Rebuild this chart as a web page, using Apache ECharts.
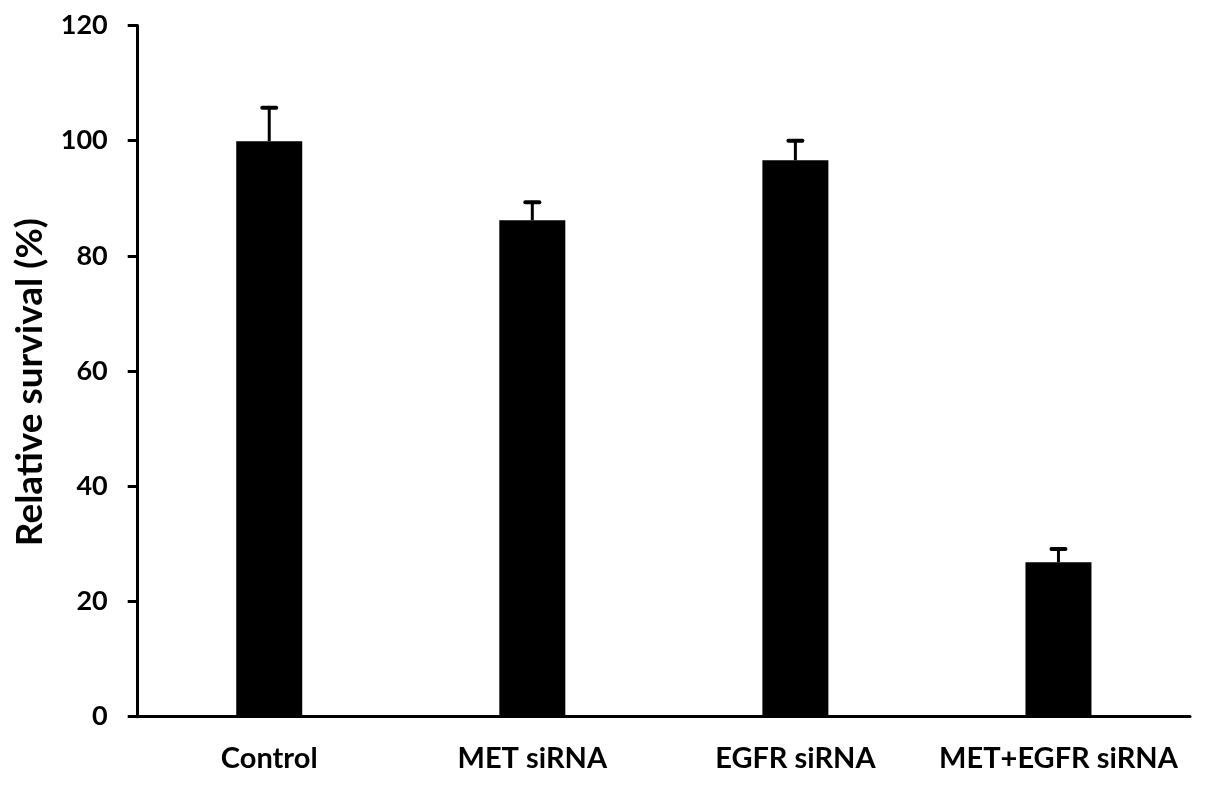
<!DOCTYPE html>
<html><head><meta charset="utf-8">
<script src="https://cdn.jsdelivr.net/npm/echarts@6/dist/echarts.min.js"></script>
<style>html,body{margin:0;padding:0;background:#fff}#c{width:1205px;height:785px}</style>
</head><body><div id="c"></div>
<script>
const categories = ['Control', 'MET siRNA', 'EGFR siRNA', 'MET+EGFR siRNA'];
const survival = [99.9, 86.2, 96.6, 26.8];
const errors = [5.8, 3.1, 3.4, 2.3];
const yTicks = [0, 20, 40, 60, 80, 100, 120];

const chart = echarts.init(document.getElementById('c'));
const font = 'Lato, "Open Sans", sans-serif';
chart.setOption({
  animation: false,
  grid: { left: 137.7, right: 15, top: 25.5, bottom: 68.3, containLabel: false },
  xAxis: {
    type: 'category', data: categories,
    axisLine: { lineStyle: { color: '#000', width: 3 } },
    axisTick: { show: false },
    axisLabel: { interval: 0, color: '#000', fontFamily: font, fontWeight: 'bold', fontSize: 29, margin: 27 }
  },
  yAxis: {
    type: 'value', min: yTicks[0], max: yTicks[yTicks.length - 1], interval: 20,
    name: 'Relative survival (%)', nameLocation: 'middle', nameRotate: 90, nameGap: 89,
    nameTextStyle: { color: '#000', fontFamily: font, fontWeight: 'bold', fontSize: 37, padding: [0, 22, 0, 0] },
    axisLine: { show: true, lineStyle: { color: '#000', width: 3 } },
    axisTick: { show: true, length: 10, lineStyle: { color: '#000', width: 3 } },
    splitLine: { show: false },
    axisLabel: { color: '#000', fontFamily: font, fontWeight: 'bold', fontSize: 27, margin: 30 }
  },
  series: [
    {
      type: 'bar', data: survival, barWidth: 66,
      itemStyle: { color: '#000' }, z: 2
    },
    {
      type: 'custom', z: 3,
      data: survival.map((v, i) => [i, v, v + errors[i]]),
      renderItem: function (params, api) {
        const x = api.value(0);
        const lo = api.coord([x, api.value(1)]);
        const hi = api.coord([x, api.value(2)]);
        const hw = 7;
        return {
          type: 'group',
          children: [
            { type: 'line', shape: { x1: lo[0], y1: lo[1], x2: hi[0], y2: hi[1] }, style: { stroke: '#000', lineWidth: 3 } },
            { type: 'line', shape: { x1: hi[0] - hw, y1: hi[1], x2: hi[0] + hw, y2: hi[1] }, style: { stroke: '#000', lineWidth: 4, lineCap: 'round' } }
          ]
        };
      }
    }
  ]
});
</script></body></html>
